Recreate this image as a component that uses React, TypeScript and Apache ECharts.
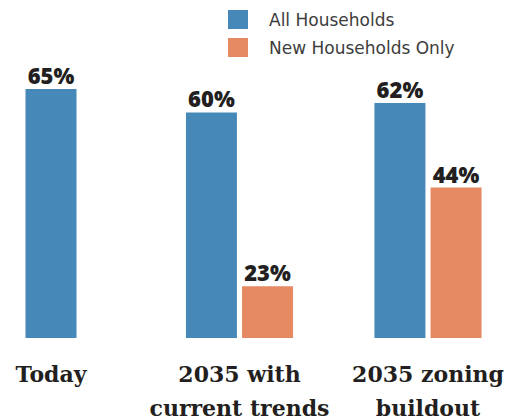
import React, { useEffect, useRef } from "react";
import * as echarts from "echarts";

const categories = ["Today", "2035 with\ncurrent trends", "2035 zoning\nbuildout"];
const seriesNames = ["All Households", "New Households Only"];
const allHouseholds: (number | null)[] = [65, 60, 62];
const newHouseholds: (number | null)[] = [null, 23, 44];

const BLUE = "#4689b8";
const ORANGE = "#e58963";
const DARK = "#231f20";

export default function App() {
  const ref = useRef<HTMLDivElement>(null);

  useEffect(() => {
    if (!ref.current) return;
    const chart = echarts.init(ref.current, undefined, { renderer: "svg" });

    const soloAll = allHouseholds.map((v, i) => (newHouseholds[i] == null ? v : null));
    const groupedAll = allHouseholds.map((v, i) => (newHouseholds[i] == null ? null : v));

    const barLabel = {
      show: true,
      position: "top" as const,
      distance: 3,
      formatter: "{c}%",
      fontFamily: "Open Sans",
      fontWeight: 800,
      fontSize: 22,
      color: DARK,
    };

    chart.setOption({
      animation: false,
      backgroundColor: "#ffffff",
      legend: {
        data: seriesNames,
        orient: "vertical",
        left: 228,
        top: 10,
        padding: 0,
        icon: "rect",
        itemWidth: 20,
        itemHeight: 19,
        itemGap: 9,
        textStyle: {
          fontFamily: "DejaVu Sans",
          fontSize: 17,
          color: "#3d3d3d",
          padding: [0, 0, 0, 16],
        },
      },
      grid: {
        left: 51,
        right: 87,
        top: 56,
        bottom: 82,
        containLabel: false,
        outerBoundsMode: "none",
      },
      xAxis: [
        {
          type: "category",
          data: categories,
          boundaryGap: false,
          axisLine: { show: false },
          axisTick: { show: false },
          splitLine: { show: false },
          axisLabel: {
            interval: 0,
            margin: 19,
            fontFamily: "DejaVu Serif",
            fontWeight: "bold",
            fontSize: 22,
            lineHeight: 34,
            color: DARK,
          },
        },
        {
          type: "category",
          data: categories,
          boundaryGap: false,
          show: false,
        },
      ],
      yAxis: {
        type: "value",
        min: 12,
        max: 72,
        show: false,
        splitLine: { show: false },
      },
      series: [
        {
          name: seriesNames[0],
          type: "bar",
          xAxisIndex: 0,
          data: groupedAll,
          barWidth: 51,
          barGap: "10%",
          itemStyle: { color: BLUE },
          label: barLabel,
        },
        {
          name: seriesNames[1],
          type: "bar",
          xAxisIndex: 0,
          data: newHouseholds,
          barWidth: 51,
          barGap: "10%",
          itemStyle: { color: ORANGE },
          label: barLabel,
        },
        {
          name: seriesNames[0],
          type: "bar",
          xAxisIndex: 1,
          data: soloAll,
          barWidth: 51,
          itemStyle: { color: BLUE },
          label: barLabel,
        },
      ],
    });

    return () => chart.dispose();
  }, []);

  return (
    <div
      ref={ref}
      style={{ position: "fixed", left: 0, top: 0, width: 515, height: 420, background: "#fff" }}
    />
  );
}
